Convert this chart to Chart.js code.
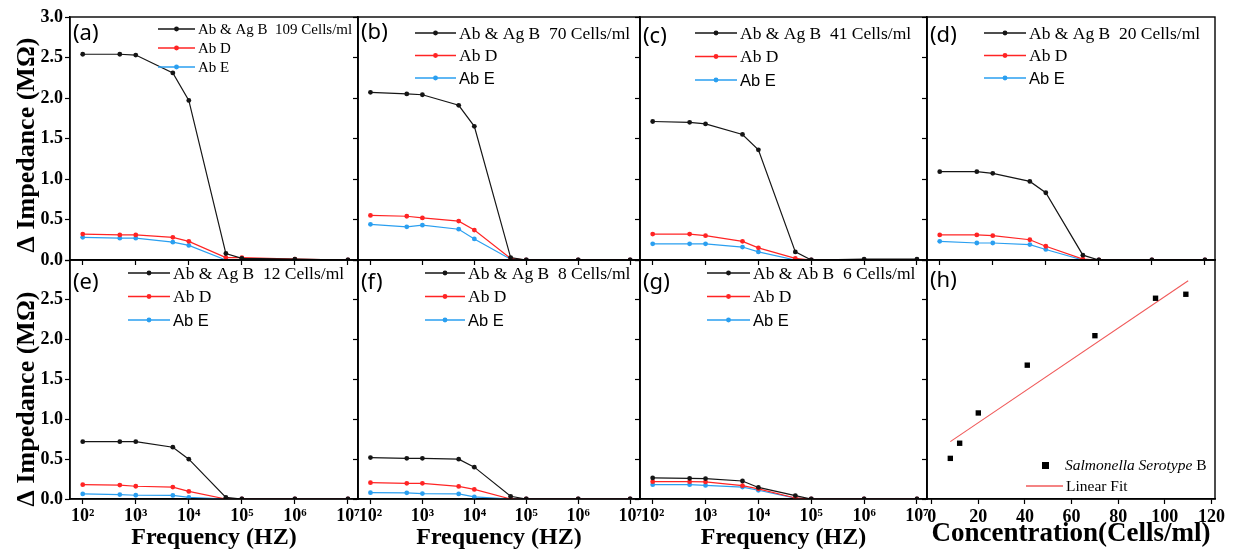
<!DOCTYPE html>
<html>
<head>
<meta charset="utf-8">
<script src="https://cdn.jsdelivr.net/npm/chart.js@4.4.1/dist/chart.umd.min.js"></script>
<style>
  html, body { margin: 0; padding: 0; background: #fff; }
  #wrap { position: relative; width: 1248px; height: 551px; overflow: hidden; }
  #wrap canvas { position: absolute; left: 0; top: 0; }
</style>
</head>
<body>
<div id="wrap"></div>
<script>
// frequencies (Hz) shared by panels a-g
const freqHz = [100, 500, 1000, 5000, 10000, 50000, 100000, 1000000, 10000000];

// delta impedance (MOhm) per concentration
const abAgB109 = [2.54, 2.54, 2.53, 2.31, 1.97, 0.08, 0.02, 0.01, 0.0];
const abD109   = [0.32, 0.31, 0.31, 0.28, 0.23, 0.03, 0.03, 0.01, 0.0];
const abE109   = [0.28, 0.27, 0.27, 0.22, 0.18, 0.0, 0.0, 0.0, 0.0];

const abAgB70 = [2.07, 2.05, 2.04, 1.91, 1.65, 0.03, 0.0, 0.0, 0.0];
const abD70   = [0.55, 0.54, 0.52, 0.48, 0.37, 0.02, 0.0, 0.0, 0.0];
const abE70   = [0.44, 0.41, 0.43, 0.38, 0.26, 0.01, 0.0, 0.0, 0.0];

const abAgB41 = [1.71, 1.70, 1.68, 1.55, 1.36, 0.10, 0.0, 0.01, 0.01];
const abD41   = [0.32, 0.32, 0.30, 0.23, 0.15, 0.02, 0.0, 0.0, 0.0];
const abE41   = [0.20, 0.20, 0.20, 0.16, 0.10, 0.0, 0.0, 0.0, 0.0];

const abAgB20 = [1.09, 1.09, 1.07, 0.97, 0.83, 0.06, 0.0, 0.0, 0.0];
const abD20   = [0.31, 0.31, 0.30, 0.25, 0.17, 0.01, 0.0, 0.0, 0.0];
const abE20   = [0.23, 0.21, 0.21, 0.19, 0.13, 0.0, 0.0, 0.0, 0.0];

const abAgB12 = [0.72, 0.72, 0.72, 0.65, 0.50, 0.02, 0.0, 0.0, 0.0];
const abD12   = [0.18, 0.175, 0.16, 0.15, 0.095, 0.0, 0.0, 0.0, 0.0];
const abE12   = [0.064, 0.056, 0.047, 0.045, 0.02, 0.0, 0.0, 0.0, 0.0];

const abAgB8 = [0.52, 0.51, 0.51, 0.50, 0.40, 0.034, 0.0, 0.0, 0.0];
const abD8   = [0.205, 0.197, 0.197, 0.158, 0.12, 0.0, 0.0, 0.0, 0.0];
const abE8   = [0.08, 0.077, 0.068, 0.064, 0.026, 0.0, 0.0, 0.0, 0.0];

const abAgB6 = [0.265, 0.26, 0.256, 0.226, 0.145, 0.043, 0.0, 0.0, 0.0];
const abD6   = [0.218, 0.218, 0.214, 0.167, 0.128, 0.013, 0.0, 0.0, 0.0];
const abE6   = [0.18, 0.18, 0.17, 0.15, 0.11, 0.01, 0.0, 0.0, 0.0];

// panel h: calibration
const concCells = [8, 12, 20, 41, 70, 96, 109];
const concImpedance = [0.51, 0.70, 1.08, 1.68, 2.05, 2.52, 2.57];
const fitConc = [8, 110];
const fitImpedance = [0.72, 2.74];

const decadeTicks = [100, 1e3, 1e4, 1e5, 1e6, 1e7];
const concTicks = [0, 20, 40, 60, 80, 100, 120];
const impTicks = [0, 0.5, 1, 1.5, 2, 2.5, 3];
const sup = { 2: '\u00B2', 3: '\u00B3', 4: '\u2074', 5: '\u2075', 6: '\u2076', 7: '\u2077' };

const W = 1248, H = 551;
const cols = [[70, 358], [358, 640], [640, 927], [927, 1215]];
const rows = [[17, 260], [260, 499]];

const BLACK = '#151515', RED = '#ff2424', BLUE = '#2a9ff0';
const SERIF = '"Liberation Serif", "Times New Roman", serif';

const panels = [
  { letter: '(a)', name: 'Ab & Ag B', conc: '109 Cells/ml', b: abAgB109, d: abD109, e: abE109, col: 0, row: 0,
    ly: 34, leg: { x: 158, y: 29, w: 37, gap: 19, size: 15, sansE: false } },
  { letter: '(b)', name: 'Ab & Ag B', conc: '70 Cells/ml', b: abAgB70, d: abD70, e: abE70, col: 1, row: 0,
    ly: 33, leg: { x: 415, y: 33, w: 41, gap: 22.5, size: 17.5, sansE: true } },
  { letter: '(c)', name: 'Ab & Ag B', conc: '41 Cells/ml', b: abAgB41, d: abD41, e: abE41, col: 2, row: 0,
    ly: 37, leg: { x: 695, y: 33, w: 42, gap: 23.5, size: 17.5, sansE: true } },
  { letter: '(d)', name: 'Ab & Ag B', conc: '20 Cells/ml', b: abAgB20, d: abD20, e: abE20, col: 3, row: 0,
    ly: 36, leg: { x: 984, y: 33, w: 42, gap: 22.5, size: 17.5, sansE: true } },
  { letter: '(e)', name: 'Ab & Ag B', conc: '12 Cells/ml', b: abAgB12, d: abD12, e: abE12, col: 0, row: 1,
    ly: 283, leg: { x: 128, y: 273, w: 42, gap: 23.5, size: 17.5, sansE: true } },
  { letter: '(f)', name: 'Ab & Ag B', conc: '8 Cells/ml', b: abAgB8, d: abD8, e: abE8, col: 1, row: 1,
    ly: 283, leg: { x: 425, y: 273, w: 40, gap: 23.5, size: 17.5, sansE: true } },
  { letter: '(g)', name: 'Ab & Ab B', conc: '6 Cells/ml', b: abAgB6, d: abD6, e: abE6, col: 2, row: 1,
    ly: 283, leg: { x: 707, y: 273, w: 43, gap: 23.5, size: 17.5, sansE: true } },
  { letter: '(h)', col: 3, row: 1, ly: 281, calib: true }
];

function lineSample(ctx, x, y, w, color, dot) {
  ctx.strokeStyle = color;
  ctx.lineWidth = 1.3;
  ctx.beginPath(); ctx.moveTo(x, y); ctx.lineTo(x + w, y); ctx.stroke();
  if (dot) {
    ctx.fillStyle = color;
    ctx.beginPath(); ctx.arc(x + w / 2, y, 2.4, 0, Math.PI * 2); ctx.fill();
  }
}

function makeDeco(p) {
  return {
    id: 'deco',
    afterDraw(chart) {
      const ctx = chart.ctx, a = chart.chartArea;
      ctx.save();
      ctx.strokeStyle = '#000';
      ctx.lineWidth = 1.4;
      ctx.strokeRect(a.left, a.top, a.right - a.left, a.bottom - a.top);

      ctx.fillStyle = '#000';
      ctx.textAlign = 'left';
      ctx.textBaseline = 'middle';
      ctx.font = '22px "Noto Sans", "Open Sans", sans-serif';
      ctx.fillText(p.letter, a.left + 3, p.ly);

      if (p.calib) {
        ctx.fillStyle = '#000';
        ctx.fillRect(1042, 462, 7, 7);
        ctx.font = 'italic 15.5px ' + SERIF;
        ctx.fillText('Salmonella Serotype', 1065, 466);
        const wI = ctx.measureText('Salmonella Serotype').width;
        ctx.font = '15.5px ' + SERIF;
        ctx.fillText(' B', 1065 + wI, 466);
        lineSample(ctx, 1026, 486, 37, '#f05a5a', false);
        ctx.fillStyle = '#000';
        ctx.fillText('Linear Fit', 1066, 487);
      } else {
        const L = p.leg;
        const items = [
          [BLACK, p.name + '  ' + p.conc, false],
          [RED, 'Ab D', false],
          [BLUE, 'Ab E', L.sansE]
        ];
        items.forEach(([c, t, sans], i) => {
          const y = L.y + i * L.gap;
          lineSample(ctx, L.x, y, L.w, c, true);
          ctx.fillStyle = '#000';
          ctx.font = sans ? (L.size - 1) + 'px "Liberation Sans", Arial, sans-serif' : L.size + 'px ' + SERIF;
          ctx.fillText(t, L.x + L.w + 3, y + 1);
        });
      }
      ctx.restore();
    }
  };
}

function lineSet(label, data, color) {
  return {
    label: label,
    data: freqHz.map((f, i) => ({ x: f, y: data[i] })),
    borderColor: color,
    backgroundColor: color,
    borderWidth: 1.2,
    pointRadius: 2.4,
    pointBorderWidth: 0,
    tension: 0
  };
}

const wrap = document.getElementById('wrap');

panels.forEach(p => {
  const [l, r] = cols[p.col];
  const [t, b] = rows[p.row];
  const cv = document.createElement('canvas');
  cv.width = W; cv.height = H;
  cv.style.width = W + 'px'; cv.style.height = H + 'px';
  wrap.appendChild(cv);

  const bottomRow = p.row === 1;
  const tickFont = { family: SERIF, size: 18, weight: 'bold' };

  // trailing spaces push the rotated title a little lower, as in the source figure
  const yTitle = '\u0394 Impedance (M\u03A9)' + (bottomRow ? '\u2002\u2002\u2002' : '\u2002');

  const yScale = {
    type: 'linear', min: 0, max: 3,
    afterBuildTicks: s => { s.ticks = impTicks.map(v => ({ value: v })); },
    afterFit: s => { s.width = l; },
    grid: { drawOnChartArea: false, drawTicks: true, tickLength: 5, color: '#000', tickWidth: 1.2 },
    border: { display: true, color: '#000', width: 1.4 },
    ticks: {
      display: p.col === 0, color: '#000', font: tickFont, padding: 2,
      callback: v => (bottomRow && v === 3) ? '' : v.toFixed(1)
    },
    title: {
      display: p.col === 0, text: yTitle, color: '#000',
      font: { family: SERIF, size: 26, weight: 'bold', lineHeight: 1 },
      padding: { top: 14, bottom: 0 }
    }
  };

  let xScale, datasets;
  if (p.calib) {
    xScale = {
      type: 'linear', min: -2, max: 121.5,
      afterBuildTicks: s => { s.ticks = concTicks.map(v => ({ value: v })); },
      afterFit: s => { s.height = H - b; },
      grid: { drawOnChartArea: false, drawTicks: true, tickLength: 5, color: '#000', tickWidth: 1.2 },
      border: { display: true, color: '#000', width: 1.4 },
      ticks: { color: '#000', font: tickFont, padding: 3, maxRotation: 0, autoSkip: false },
      title: {
        display: true, text: 'Concentration(Cells/ml)', color: '#000',
        font: { family: SERIF, size: 27, weight: 'bold', lineHeight: 1 },
        padding: { top: 0, bottom: 3 }
      }
    };
    datasets = [
      {
        label: 'Salmonella Serotype B', type: 'scatter',
        data: concCells.map((c, i) => ({ x: c, y: concImpedance[i] })),
        pointStyle: 'rect', pointRadius: 3.8, pointBorderWidth: 0,
        backgroundColor: '#000', borderColor: '#000'
      },
      {
        label: 'Linear Fit', type: 'line',
        data: fitConc.map((c, i) => ({ x: c, y: fitImpedance[i] })),
        borderColor: '#f05a5a', borderWidth: 1.1, pointRadius: 0
      }
    ];
  } else {
    xScale = {
      type: 'logarithmic', min: Math.pow(10, 1.76), max: Math.pow(10, 7.19),
      afterBuildTicks: s => { s.ticks = decadeTicks.map(v => ({ value: v })); },
      afterFit: s => { s.height = H - b; },
      grid: { drawOnChartArea: false, drawTicks: true, tickLength: 5, color: '#000', tickWidth: 1.2 },
      border: { display: true, color: '#000', width: 1.4 },
      ticks: {
        display: bottomRow, color: '#000', font: tickFont, padding: 2, maxRotation: 0, autoSkip: false,
        callback: v => '10' + sup[Math.round(Math.log10(v))]
      },
      title: {
        display: bottomRow, text: 'Frequency (HZ)', color: '#000',
        font: { family: SERIF, size: 24, weight: 'bold', lineHeight: 1 },
        padding: { top: 0, bottom: 1 }
      }
    };
    datasets = [
      lineSet(p.name + ' ' + p.conc, p.b, BLACK),
      lineSet('Ab D', p.d, RED),
      lineSet('Ab E', p.e, BLUE)
    ];
  }

  new Chart(cv, {
    type: 'line',
    data: { datasets: datasets },
    options: {
      responsive: false,
      animation: false,
      devicePixelRatio: 1,
      parsing: false,
      layout: { padding: { left: 0, top: t, right: W - r, bottom: 0 } },
      scales: { x: xScale, y: yScale },
      plugins: { legend: { display: false }, tooltip: { enabled: false } }
    },
    plugins: [makeDeco(p)]
  });
});
</script>
</body>
</html>
